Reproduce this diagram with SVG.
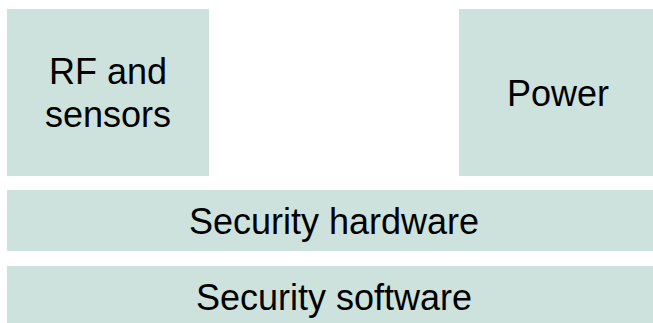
<svg xmlns="http://www.w3.org/2000/svg" width="653" height="323" viewBox="0 0 653 323">
<style>
.box{fill:#cde2dc;}
.t{font-family:"Liberation Sans",Arial,sans-serif;font-size:36px;fill:#000;text-anchor:middle;}
</style>
<rect width="653" height="323" fill="#ffffff"/>
<g id="rf">
<rect class="box" x="7" y="9" width="202" height="167"/>
<text class="t" x="108" y="84">RF and</text>
<text class="t" x="108" y="127">sensors</text>
</g>
<g id="power">
<rect class="box" x="459" y="9" width="200" height="167"/>
<text class="t" x="558" y="106">Power</text>
</g>
<g id="hardware">
<rect class="box" x="7" y="190" width="654" height="61"/>
<text class="t" x="334" y="234">Security hardware</text>
</g>
<g id="software">
<rect class="box" x="7" y="266" width="654" height="61"/>
<text class="t" x="334" y="310">Security software</text>
</g>
<g id="connectors"></g>
</svg>
